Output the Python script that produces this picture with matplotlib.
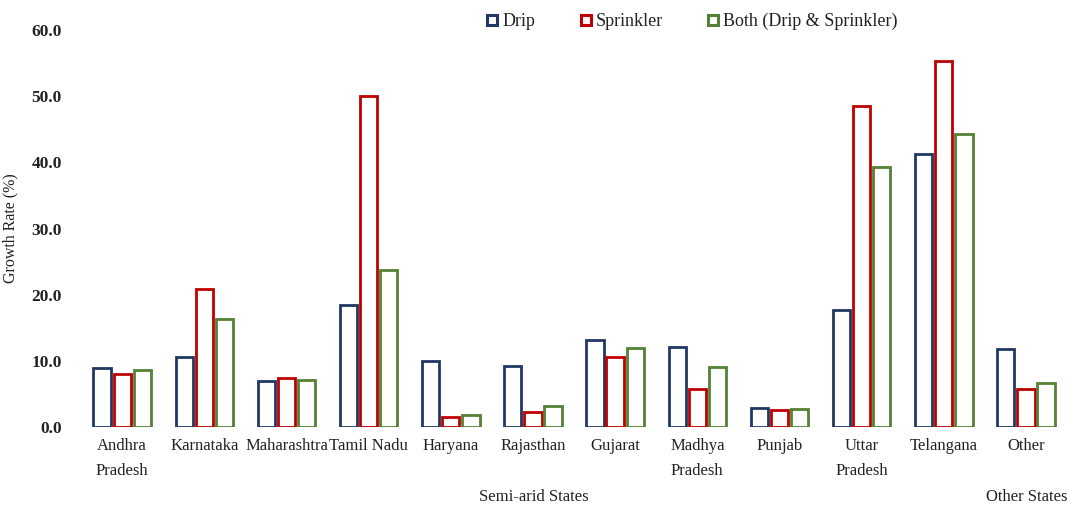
import matplotlib
matplotlib.use("Agg")
import matplotlib.pyplot as plt
from matplotlib.lines import Line2D
import numpy as np

plt.rcParams['font.family'] = ['Liberation Serif', 'DejaVu Serif']

states = ["Andhra\nPradesh", "Karnataka", "Maharashtra", "Tamil Nadu", "Haryana",
          "Rajasthan", "Gujarat", "Madhya\nPradesh", "Punjab", "Uttar\nPradesh",
          "Telangana", "Other"]
drip = [8.9, 10.6, 7.0, 18.5, 10.0, 9.2, 13.2, 12.1, 2.9, 17.7, 41.3, 11.8]
sprinkler = [8.0, 20.8, 7.4, 50.0, 1.5, 2.3, 10.6, 5.7, 2.5, 48.5, 55.3, 5.7]
both = [8.6, 16.3, 7.1, 23.7, 1.8, 3.1, 11.9, 9.0, 2.7, 39.3, 44.3, 6.6]
series_names = ["Drip", "Sprinkler", "Both (Drip & Sprinkler)"]
colors = ["#1F3864", "#C00000", "#538135"]

fig = plt.figure(figsize=(10.67, 5.05), dpi=100)
ax = fig.add_axes([0.076, 0.1545, 0.924, 0.786])

x = np.arange(len(states))
w = 0.21
step = 0.245
for i, (vals, col) in enumerate(zip([drip, sprinkler, both], colors)):
    ax.bar(x + (i - 1) * step, vals, width=w, facecolor="white",
           edgecolor=col, linewidth=2.0)

ax.set_xlim(-0.5, len(states) - 0.5)
ax.set_ylim(0, 60)
ax.set_yticks(np.arange(0, 61, 10))
ax.set_yticklabels([f"{v:.1f}" for v in np.arange(0, 61, 10)],
                   fontsize=12.5, fontweight="bold", color="#222222")
ax.set_xticks(x)
ax.set_xticklabels(states, fontsize=12, linespacing=1.75, color="#222222")
ax.tick_params(axis="both", length=0)
ax.tick_params(axis="x", pad=8)
ax.tick_params(axis="y", pad=14)
for s in ax.spines.values():
    s.set_visible(False)

ax.set_ylabel("Growth Rate (%)", fontsize=11.5, color="#222222")
ax.yaxis.set_label_coords(-0.064, 0.5)

fig.text(0.5, 0.0, "Semi-arid States", fontsize=12, ha="center", va="bottom",
         color="#222222")
fig.text(0.962, 0.0, "Other States", fontsize=12, ha="center", va="bottom",
         color="#222222")

handles = [Line2D([], [], linestyle="none", marker="s", markersize=7,
                  markerfacecolor="white", markeredgecolor=c, markeredgewidth=2.2)
           for c in colors]
fig.legend(handles, series_names, loc="upper left", bbox_to_anchor=(0.441, 1.007),
           ncol=3, frameon=False, fontsize=13, handlelength=0.6,
           handletextpad=0.25, columnspacing=2.5, labelcolor="#222222")

fig.savefig("out.png", dpi=100)
